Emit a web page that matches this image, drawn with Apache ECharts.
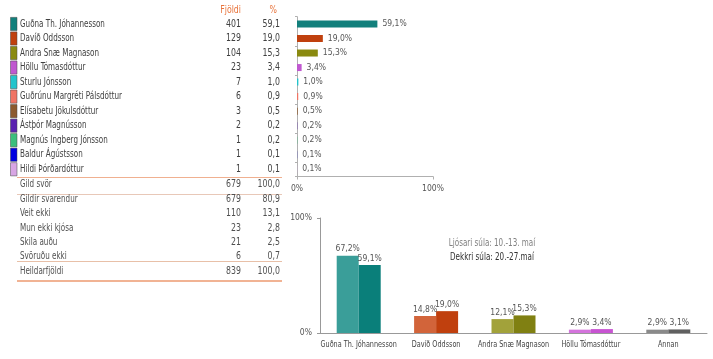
<!DOCTYPE html>
<html><head><meta charset="utf-8">
<script src="https://cdn.jsdelivr.net/npm/echarts@6/dist/echarts.min.js"></script>
<style>html,body{margin:0;padding:0;background:#fff}#c{width:713px;height:359px}</style>
</head><body><div id="c"></div>
<script>
// ---- data ----
const candidates = ['Guðna Th. Jóhannesson','Davíð Oddsson','Andra Snæ Magnason','Höllu Tómasdóttur','Sturlu Jónsson','Guðrúnu Margréti Pálsdóttur','Elísabetu Jökulsdóttur','Ástþór Magnússon','Magnús Ingberg Jónsson','Baldur Ágústsson','Hildi Þórðardóttur'];
const counts = [401,129,104,23,7,6,3,2,1,1,1];
const pcts = [59.1,19.0,15.3,3.4,1.0,0.9,0.5,0.2,0.2,0.1,0.1];
const validLabel = 'Gild svör', validCount = 679, validPct = 100.0;
const summaryNames = ['Gildir svarendur','Veit ekki','Mun ekki kjósa','Skila auðu','Svöruðu ekki'];
const summaryCounts = [679,110,23,21,6];
const summaryPcts = [80.9,13.1,2.8,2.5,0.7];
const totalLabel = 'Heildarfjöldi', totalCount = 839, totalPct = 100.0;
const headers = ['Fjöldi','%'];
const topTicks = [0,100];
const compareCats = ['Guðna Th. Jóhannesson','Davíð Oddsson','Andra Snæ Magnason','Höllu Tómasdóttur','Annan'];
const earlier = [67.2,14.8,12.1,2.9,2.9];
const later = [59.1,19.0,15.3,3.4,3.1];
const noteLines = ['Ljósari súla: 10.-13. maí','Dekkri súla: 20.-27.maí'];

// ---- style ----
const colors = ['#12807c','#c0400e','#8a8a10','#c058d0','#22c4cc','#f07464','#8c5a2e','#5a22b0','#3cbf7c','#0000e0','#d8a6e4'];
const lightColors = ['#3a9e99','#d2643a','#a2a23a','#d474dc','#8a8a8a'];
const darkColors = ['#0a7f7a','#c0400e','#808012','#c854d2','#606060'];
const FONT = "'Liberation Sans Narrow','DejaVu Sans Condensed',sans-serif";
const fmt = v => v.toFixed(1).replace('.', ',');

const rowTop = 16.7, rowH = 14.53;
const nameX = 20, countX = 241, pctX = 280;
const g = [];
function text(x, y, s, align, color, size, sx) {
  g.push({type:'text', x:x, y:y, scaleX:sx||1, style:{text:s, align:align, verticalAlign:'middle', fill:color, font:(size||10)+'px '+FONT}});
}
function hline(y, color, w) {
  g.push({type:'line', shape:{x1:17, y1:y, x2:282, y2:y}, style:{stroke:color, lineWidth:w}});
}
const NS = 0.8, VS = 0.87;
text(countX, 10, headers[0], 'right', '#e8743c', 10, VS);
text(pctX-3, 10, headers[1], 'right', '#e8743c', 10, VS);
candidates.forEach((n,i) => {
  const cy = rowTop + rowH*(i+0.5);
  g.push({type:'rect', shape:{x:10.5, y:cy-6.6, width:6.5, height:13.2}, style:{fill:colors[i], stroke:'#444', lineWidth:0.5}});
  text(nameX, cy, n, 'left', '#404040', 10, NS);
  text(countX, cy, String(counts[i]), 'right', '#404040', 10, VS);
  text(pctX, cy, fmt(pcts[i]), 'right', '#404040', 10, VS);
});
hline(177.5, '#f0b090', 1);
text(nameX, 184.5, validLabel, 'left', '#505050', 10, NS);
text(countX, 184.5, String(validCount), 'right', '#505050', 10, VS);
text(pctX, 184.5, fmt(validPct), 'right', '#505050', 10, VS);
hline(194.5, '#e8c8b8', 1);
summaryNames.forEach((n,i) => {
  const cy = 199.3 + 14.35*i;
  text(nameX, cy, n, 'left', '#505050', 10, NS);
  text(countX, cy, String(summaryCounts[i]), 'right', '#505050', 10, VS);
  text(pctX, cy, fmt(summaryPcts[i]), 'right', '#505050', 10, VS);
});
hline(261.5, '#e8c0a8', 1);
text(nameX, 271.5, totalLabel, 'left', '#505050', 10, NS);
text(countX, 271.5, String(totalCount), 'right', '#505050', 10, VS);
text(pctX, 271.5, fmt(totalPct), 'right', '#505050', 10, VS);
hline(281, '#ec9a70', 1.6);
text(492, 243, noteLines[0], 'center', '#808080', 10, NS);
text(492, 257, noteLines[1], 'center', '#303030', 10, NS);

const chart = echarts.init(document.getElementById('c'), null, {renderer:'canvas'});
const option = {
  animation:false,
  textStyle:{fontFamily:FONT},
  grid:[
    {left:297, top:rowTop, width:136, height:rowH*11},
    {left:320, top:218, width:387, height:115}
  ],
  xAxis:[
    {gridIndex:0, type:'value', min:topTicks[0], max:topTicks[1], interval:100,
     axisLine:{show:true, lineStyle:{color:'#b0b0b0'}}, axisTick:{show:true, length:3, lineStyle:{color:'#b0b0b0'}},
     splitLine:{show:false},
     axisLabel:{formatter:'{value}%', fontSize:8.5, color:'#555', margin:8, fontFamily:FONT}},
    {gridIndex:1, type:'category', data:compareCats,
     axisLine:{lineStyle:{color:'#999'}}, axisTick:{show:false},
     axisLabel:{show:false}}
  ],
  yAxis:[
    {gridIndex:0, type:'category', data:candidates, inverse:true,
     axisLine:{show:true, lineStyle:{color:'#b0b0b0'}}, axisTick:{show:true, length:2, lineStyle:{color:'#b0b0b0'}},
     axisLabel:{show:false}},
    {gridIndex:1, type:'value', min:0, max:100, interval:100,
     axisLine:{show:true, lineStyle:{color:'#999'}}, axisTick:{show:true, length:3, lineStyle:{color:'#999'}},
     splitLine:{show:false},
     axisLabel:{formatter:'{value}%', fontSize:8.5, color:'#555', margin:8, fontFamily:FONT}}
  ],
  series:[
    {type:'bar', xAxisIndex:0, yAxisIndex:0, barWidth:7,
     data:pcts.map((v,i)=>({value:v, itemStyle:{color:colors[i]}})),
     label:{show:true, position:'right', distance:5, fontSize:8.5, color:'#555', fontFamily:FONT,
            formatter:p=>fmt(p.value)+'%'}},
    {type:'bar', xAxisIndex:1, yAxisIndex:1, barWidth:22, barGap:'0%',
     data:earlier.map((v,i)=>({value:v, itemStyle:{color:lightColors[i]}})),
     label:{show:true, position:'top', distance:2, fontSize:8.5, color:'#555', fontFamily:FONT,
            formatter:p=>fmt(p.value)+'%'}},
    {type:'bar', xAxisIndex:1, yAxisIndex:1, barWidth:22, barGap:'0%',
     data:later.map((v,i)=>({value:v, itemStyle:{color:darkColors[i]}})),
     label:{show:true, position:'top', distance:2, fontSize:8.5, color:'#555', fontFamily:FONT,
            formatter:p=>fmt(p.value)+'%'}}
  ],
  graphic:g
};
chart.setOption(option);
// category labels of the lower chart, placed through the library's own axis scale
compareCats.forEach((c,i) => {
  const px = chart.convertToPixel({xAxisIndex:1, yAxisIndex:1}, [i, 0]);
  text(px[0], px[1] + 12, c, 'center', '#444', 9, 0.8);
});
chart.setOption({graphic:g});
</script></body></html>
